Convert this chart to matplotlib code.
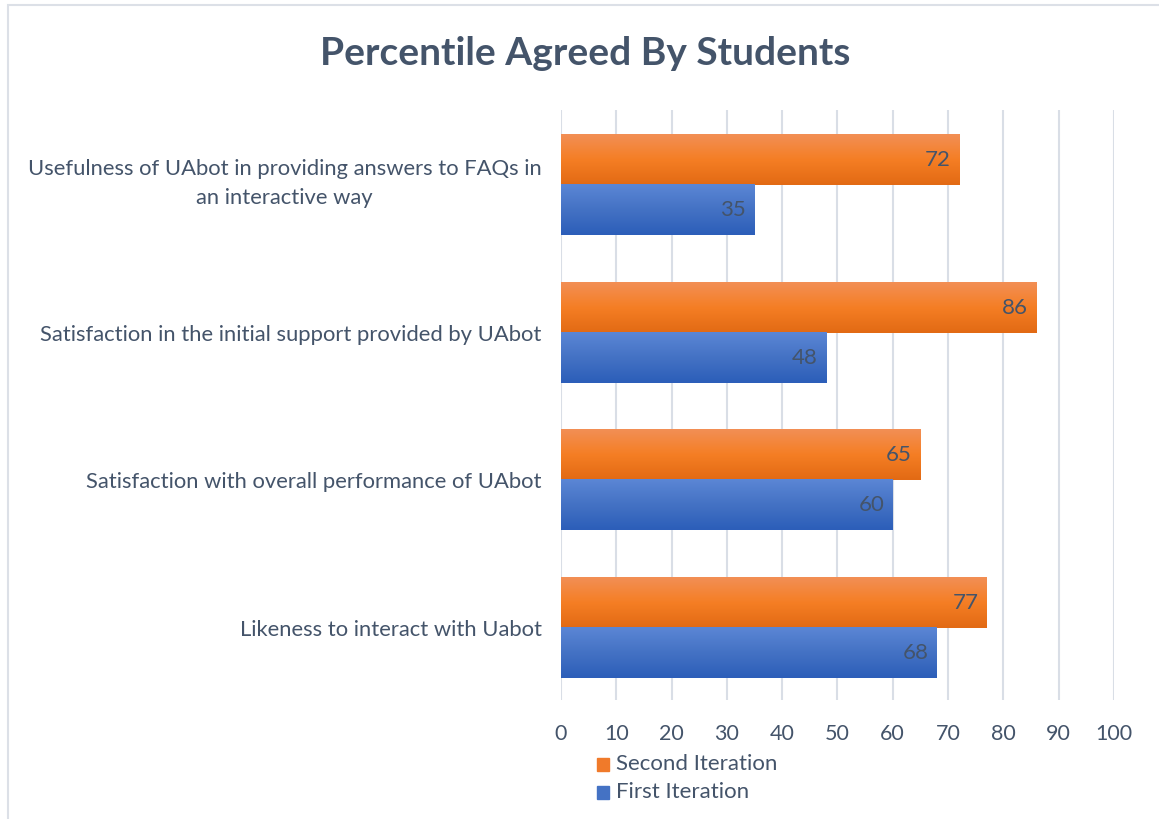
import matplotlib.pyplot as plt
import matplotlib.transforms as mtransforms
import numpy as np
from matplotlib.colors import LinearSegmentedColormap
from matplotlib.patches import Rectangle

categories = [
    "Likeness to interact with Uabot",
    "Satisfaction with overall performance of UAbot",
    "Satisfaction in the initial support provided by UAbot",
    "Usefulness of UAbot in providing answers to FAQs in\nan interactive way",
]
first_iteration = [68, 60, 48, 35]
second_iteration = [77, 65, 86, 72]
x_ticks = [0, 10, 20, 30, 40, 50, 60, 70, 80, 90, 100]

text_color = "#44546A"
plt.rcParams["font.family"] = ["Lato", "DejaVu Sans"]

orange_cmap = LinearSegmentedColormap.from_list("orange", ["#F28F55", "#F57E24", "#E26A14"])
blue_cmap = LinearSegmentedColormap.from_list("blue", ["#5B86D5", "#4472C4", "#2C5EB9"])

fig = plt.figure(figsize=(11.59, 8.19), dpi=100)
ax = fig.add_axes([0.484, 0.145, 0.477, 0.721])

y = np.arange(len(categories))
h = 0.34
grad = np.linspace(0, 1, 64).reshape(-1, 1)


def gradient_bars(values, offset, cmap):
    bars = ax.barh(y + offset, values, height=h, color="none", zorder=3)
    for bar, v in zip(bars, values):
        x0, y0 = bar.get_x(), bar.get_y()
        ax.imshow(grad, cmap=cmap, aspect="auto", zorder=3,
                  extent=(x0, x0 + bar.get_width(), y0, y0 + bar.get_height()),
                  origin="upper")
        ax.text(v - 1.5, y0 + bar.get_height() / 2, f"{v}", ha="right", va="center",
                fontsize=16, color=text_color, zorder=4)
    return bars


gradient_bars(second_iteration, h / 2, orange_cmap)
gradient_bars(first_iteration, -h / 2, blue_cmap)

ax.set_xlim(0, 100)
ax.set_ylim(-0.49, 3.51)
ax.set_xticks(x_ticks)
ax.set_yticks(y)
ax.set_yticklabels(categories, linespacing=1.55)
ax.grid(axis="x", color="#D9DEE6", linewidth=1.5, zorder=0)
ax.set_axisbelow(True)
for s in ax.spines.values():
    s.set_visible(False)
ax.tick_params(length=0, labelcolor=text_color)
ax.tick_params(axis="x", pad=17, labelsize=15.5)
ax.tick_params(axis="y", pad=14, labelsize=15.8)
for lbl in ax.get_yticklabels():
    lbl.set_horizontalalignment("right")
    lbl.set_multialignment("center")
    if "\n" in lbl.get_text():
        # two-line label sits a little high
        lbl.set_transform(lbl.get_transform() +
                          mtransforms.ScaledTranslation(0, 6 / 72, fig.dpi_scale_trans))

fig.text(0.505, 0.935, "Percentile Agreed By Students", ha="center", va="center",
         fontsize=28, fontweight="bold", color=text_color)

# legend entries, orange above blue
for i, (label, c) in enumerate([("Second Iteration", "#F07A2A"), ("First Iteration", "#4472C4")]):
    yy = 1 - (764 + 28 * i) / 819
    fig.patches.append(Rectangle((597 / 1159, yy - 0.008), 12 / 1159, 13 / 819,
                                 transform=fig.transFigure, color=c))
    fig.text(616 / 1159, yy, label, ha="left", va="center", fontsize=16, color=text_color)

fig.patches.append(Rectangle((8 / 1159, -0.01), 1.1, 1.01 - 5 / 819, transform=fig.transFigure,
                             fill=False, edgecolor="#DCE0E7", linewidth=1.5))

fig.savefig("out.png", dpi=100)
